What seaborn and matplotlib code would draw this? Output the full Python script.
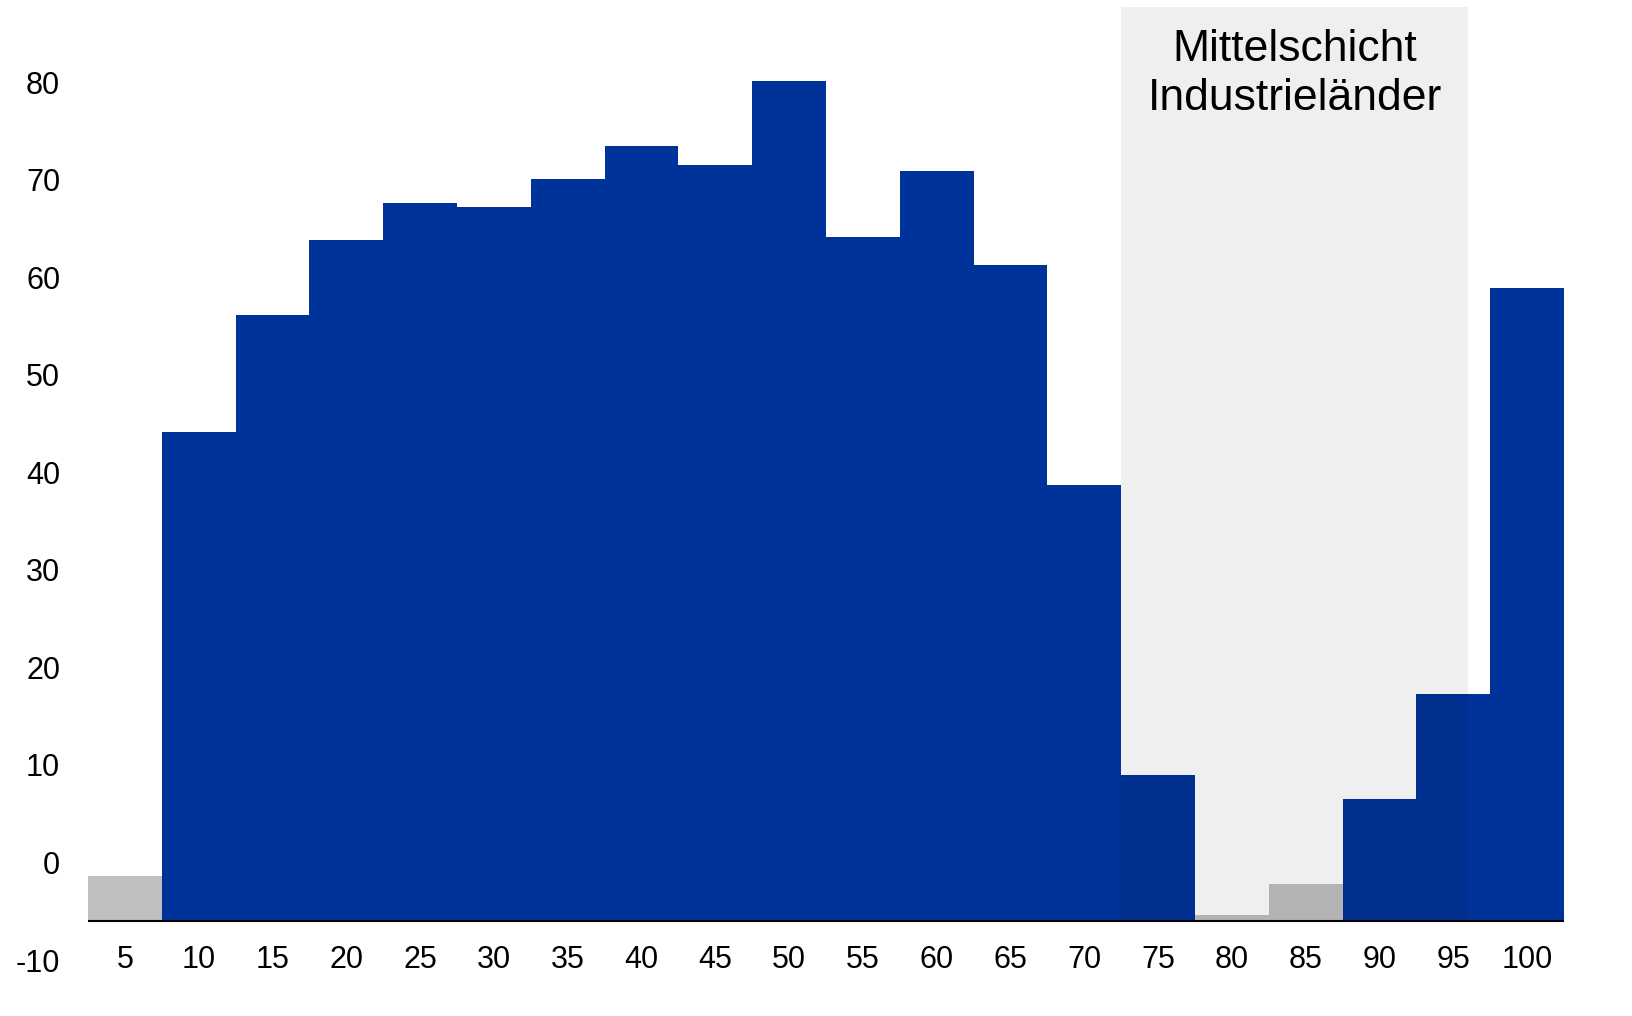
import numpy as np
import pandas as pd
import seaborn as sns
import matplotlib.pyplot as plt

# Income percentile groups and real income growth (%)
percentiles = [5, 10, 15, 20, 25, 30, 35, 40, 45, 50,
               55, 60, 65, 70, 75, 80, 85, 90, 95, 100]
growth = [-1.4, 44.1, 56.1, 63.8, 67.6, 67.2, 70.1, 73.5, 71.5, 80.1,
          64.1, 70.9, 61.2, 38.7, 9.0, -5.4, -2.2, 6.5, 17.3, 58.9]
y_ticks = [-10, 0, 10, 20, 30, 40, 50, 60, 70, 80]
band_label = "Mittelschicht\nIndustrieländer"

baseline = -6
ytop = 87.7
df = pd.DataFrame({"p": percentiles, "g": growth})
df["color"] = np.where(df["g"] < 0, "#bfbfbf", "#003399")

sns.set_theme(style="white")
plt.rcParams["font.family"] = ["Liberation Sans", "DejaVu Sans"]

fig = plt.figure(figsize=(16.32, 10.16), dpi=100)
ax = fig.add_axes([88 / 1632, 1 - 960 / 1016, (1564 - 88) / 1632, (960 - 7) / 1016])

ax.bar(df["p"], df["g"] - baseline, bottom=baseline, width=5,
       color=df["color"], linewidth=0, zorder=2)

# translucent band for the middle class of industrial countries
ax.fill_between([72.5, 96], baseline, ytop, color="black", alpha=0.063,
                linewidth=0, zorder=3)
ax.text(84.25, 80.8, band_label, ha="center", va="center", color="black",
        fontsize=32, linespacing=1.25, zorder=4)

ax.axhline(baseline, color="black", linewidth=1.5, zorder=5)

ax.set_xlim(2.5, 102.5)
ax.set_ylim(-10, ytop)
ax.set_xticks(percentiles)
ax.set_xticklabels([str(p) for p in percentiles])
ax.set_yticks(y_ticks)
ax.set_yticklabels([str(t) for t in y_ticks])
for lbl in ax.get_xticklabels():
    lbl.set_va("center")
ax.tick_params(axis="x", length=0, pad=0, labelsize=22, labelcolor="black")
ax.tick_params(axis="y", length=0, pad=20, labelsize=22, labelcolor="black")
for s in ax.spines.values():
    s.set_visible(False)
ax.grid(False)

fig.savefig("out.png", dpi=100)
